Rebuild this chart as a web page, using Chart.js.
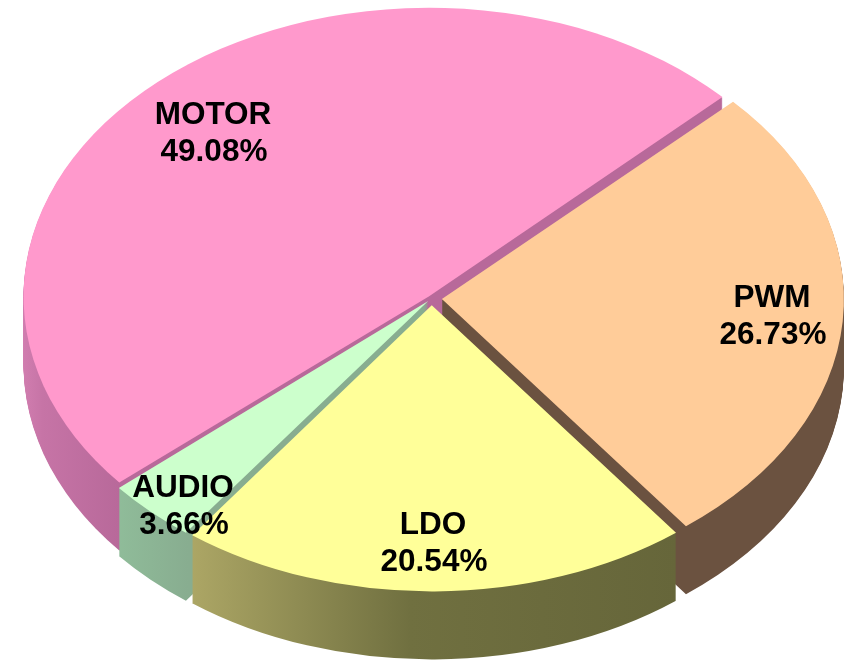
<!DOCTYPE html>
<html>
<head>
<meta charset="utf-8">
<style>
  html, body { margin: 0; padding: 0; background: #fff; }
  canvas { display: block; }
</style>
<script src="https://cdn.jsdelivr.net/npm/chart.js@4"></script>
</head>
<body>
<canvas id="pie" width="858" height="662"></canvas>
<script>
// Chart data
const categories = ['PWM', 'LDO', 'AUDIO', 'MOTOR'];
const shares = [26.73, 20.54, 3.66, 49.08];

// Slice look
const topColors = ['#ffcc99', '#ffff99', '#ccffcc', '#ff99cc'];
const sideColors = [
    [[0, '#6b5240'], [1, '#6b5240']],
    [[0, '#aca665'], [0.45, '#707040'], [1, '#66663a']],
    [[0, '#90bd9a'], [1, '#88ad90']],
    [[0, '#d480b2'], [0.25, '#c674a6'], [1, '#b8699a']]
];
// horizontal run of each side gradient, measured from the disc centre
const sideSpans = [[0, 402], [-240, 245], [-315, -240], [-412, -310]];
const sliceOffsets = [32, 30, 16, 12];

// Tilted disc on the page
const disc = { x: 431.7, y: 298.4, rx: 402, ry: 286, depth: 68 };
const drawOrder = [3, 0, 2, 1];
const labelSpots = [[772, 298], [433, 525], [183, 488], [213, 115]];

const pie3d = {
    id: 'pie3d',
    beforeDatasetDraw(chart) {
        const ctx = chart.ctx;
        const arcs = chart.getDatasetMeta(0).data;
        const sx = disc.rx / arcs[0].outerRadius;
        const sy = disc.ry / arcs[0].outerRadius;

        function place(arc, drop) {
            ctx.translate(disc.x, disc.y + drop);
            ctx.scale(sx, sy);
            ctx.translate(-arc.x, -arc.y);
        }

        // sides first : the same arc stacked downward, pixel by pixel
        drawOrder.forEach((i) => {
            const arc = arcs[i];
            const grad = ctx.createLinearGradient(arc.x + sideSpans[i][0] / sx, 0, arc.x + sideSpans[i][1] / sx, 0);
            sideColors[i].forEach((stop) => grad.addColorStop(stop[0], stop[1]));
            const side = Object.create(arc);
            side.options = {
                offset: arc.options.offset, spacing: 0, circular: true,
                borderWidth: 0, borderAlign: 'center', backgroundColor: grad
            };
            for (let d = disc.depth; d >= 1; d--) {
                ctx.save();
                place(arc, d);
                side.draw(ctx);
                ctx.restore();
            }
        });

        // then the top faces
        drawOrder.forEach((i) => {
            ctx.save();
            place(arcs[i], 0);
            arcs[i].draw(ctx);
            ctx.restore();
        });
        return false;
    },
    afterDatasetsDraw(chart) {
        const ctx = chart.ctx;
        ctx.save();
        ctx.fillStyle = '#000';
        ctx.textAlign = 'center';
        ctx.textBaseline = 'middle';
        ctx.font = 'bold 31.5px "Liberation Sans", Arial, sans-serif';
        categories.forEach((name, i) => {
            ctx.fillText(name, labelSpots[i][0], labelSpots[i][1]);
            ctx.fillText(shares[i].toFixed(2) + '%', labelSpots[i][0] + 1, labelSpots[i][1] + 37);
        });
        ctx.restore();
    }
};

new Chart(document.querySelector('#pie').getContext('2d'), {
    type: 'pie',
    data: {
        labels: categories,
        datasets: [{
            data: shares,
            backgroundColor: topColors,
            offset: sliceOffsets,
            borderWidth: 0,
            clip: false
        }]
    },
    options: {
        responsive: false,
        animation: false,
        rotation: 46.4,
        plugins: {
            legend: { display: false },
            tooltip: { enabled: false }
        }
    },
    plugins: [pie3d]
});
</script>
</body>
</html>
